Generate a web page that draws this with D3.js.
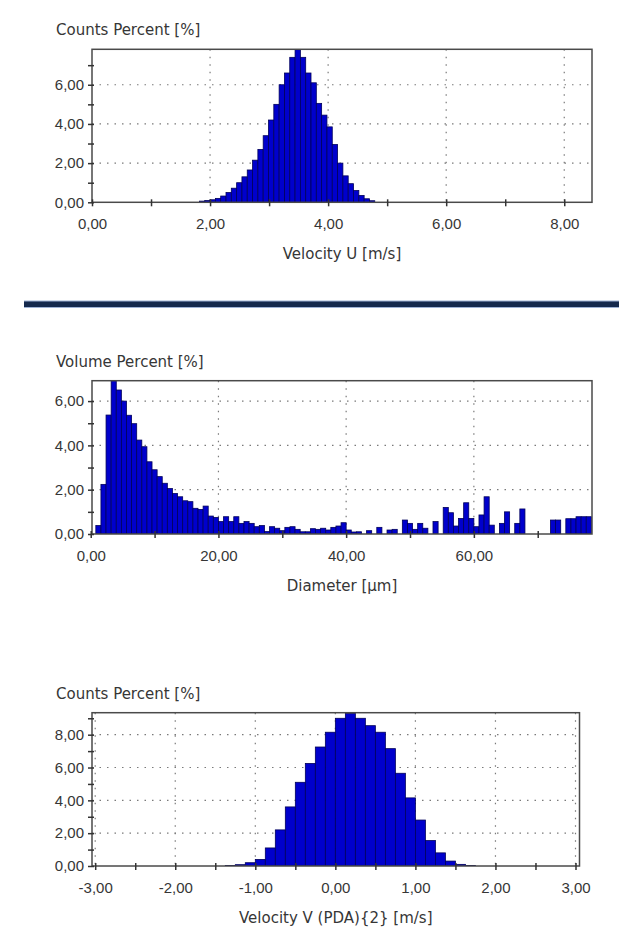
<!DOCTYPE html>
<html>
<head>
<meta charset="utf-8">
<script src="https://cdn.jsdelivr.net/npm/d3@7"></script>
<style>
  body { margin: 0; background: #fff; }
  svg { display: block; font-family: "DejaVu Sans", sans-serif; }
  .grid line { stroke: #7a7a7a; stroke-width: 1.2; stroke-dasharray: 1.5 6; }
  .bar { fill: #0000cc; stroke: #00005a; stroke-width: 0.8; }
  .frame { fill: none; stroke: #4a4a4a; stroke-width: 1.5; }
  .axis text { fill: #363636; font-size: 15px; }
  .axis line { stroke: #333; stroke-width: 1.5; }
  .title { fill: #363636; font-size: 15px; }
</style>
</head>
<body>
<svg width="619" height="927"></svg>
<script>
// ---- data ----
// velocity U histogram, bins of 0.09 m/s from 1.82
var velUStart = 1.82, velUBin = 0.09;
var velUCounts = [0.06, 0.09, 0.13, 0.2, 0.32, 0.5, 0.72, 1.0, 1.3, 1.65,
  2.15, 2.7, 3.4, 4.2, 5.0, 6.0, 6.6, 7.4, 7.8, 7.4,
  6.6, 6.1, 5.05, 4.45, 3.85, 2.95, 2.0, 1.35, 0.95, 0.6,
  0.35, 0.18, 0.08];
var velUXTicks = [0, 2, 4, 6, 8];
var velUXMinor = [1, 3, 5, 7];
var velUYTicks = [0, 2, 4, 6];
var velUYMinor = [1, 3, 5, 7];

// diameter histogram, bins of 0.8 µm from 0.8
var diamStart = 0.8, diamBin = 0.8;
var diamVolume = [0.38, 2.24, 5.37, 6.92, 6.5, 6.0, 5.36, 4.98, 4.24, 3.94,
  3.26, 2.9, 2.59, 2.29, 2.05, 1.83, 1.68, 1.5, 1.46, 1.16,
  1.11, 1.26, 0.81, 0.75, 0.56, 0.78, 0.56, 0.78, 0.48, 0.56,
  0.48, 0.33, 0.38, 0.11, 0.33, 0.26, 0.15, 0.3, 0.33, 0.21,
  0.1, 0.1, 0.24, 0.21, 0.26, 0.18, 0.3, 0.36, 0.51, 0.18,
  0.09, 0.1, 0, 0.15, 0, 0.3, 0, 0.18, 0.21, 0,
  0.63, 0.48, 0.21, 0.48, 0.26, 0, 0.56, 0, 1.2, 0.96,
  0.36, 0.7, 1.41, 0.7, 0.33, 0.86, 1.68, 0.4, 0, 0.48,
  1.0, 0, 0.48, 1.13, 0, 0, 0, 0, 0, 0.63,
  0.63, 0, 0.69, 0.69, 0.78, 0.78, 0.78];
var diamXTicks = [0, 20, 40, 60];
var diamXMinor = [10, 30, 50, 70];
var diamYTicks = [0, 2, 4, 6];
var diamYMinor = [1, 3, 5];

// velocity V histogram, bins of 0.125 m/s from -1.375
var velVStart = -1.375, velVBin = 0.125;
var velVCounts = [0.03, 0.08, 0.2, 0.4, 1.1, 2.2, 3.6, 5.1, 6.25, 7.25,
  8.15, 9.0, 9.3, 9.0, 8.55, 8.15, 7.15, 5.65, 4.15, 2.8,
  1.55, 0.8, 0.3, 0.1, 0.03];
var velVXTicks = [-3, -2, -1, 0, 1, 2, 3];
var velVXMinor = [-2.5, -1.5, -0.5, 0.5, 1.5, 2.5];
var velVYTicks = [0, 2, 4, 6, 8];
var velVYMinor = [1, 3, 5, 7, 9];

var fmt = d3.formatLocale({decimal: ",", thousands: ".", grouping: [3], currency: ["", ""], minus: "-"}).format(".2f");

var svg = d3.select("svg");

function panel(o) {
  var x = d3.scaleLinear().domain(o.xDomain).range([o.left, o.right]);
  var y = d3.scaleLinear().domain(o.yDomain).range([o.bottom, o.top]);
  var g = svg.append("g");

  g.append("clipPath").attr("id", o.id)
    .append("rect")
      .attr("x", o.left).attr("y", o.top - 1)
      .attr("width", o.right - o.left).attr("height", o.bottom - o.top + 1);

  // dotted grid
  var grid = g.append("g").attr("class", "grid");
  grid.selectAll(".gx")
    .data(o.xTicks.filter(function(d) { return x(d) > o.left + 2; }))
    .enter().append("line")
      .attr("x1", function(d) { return x(d); })
      .attr("x2", function(d) { return x(d); })
      .attr("y1", o.top).attr("y2", o.bottom);
  grid.selectAll(".gy")
    .data(o.yTicks.filter(function(d) { return d > 0; }))
    .enter().append("line")
      .attr("x1", o.left).attr("x2", o.right)
      .attr("y1", function(d) { return y(d); })
      .attr("y2", function(d) { return y(d); });

  // bars
  g.append("g").attr("clip-path", "url(#" + o.id + ")")
    .selectAll("rect")
    .data(o.values.map(function(v, i) { return {x0: o.start + i * o.bin, x1: o.start + (i + 1) * o.bin, v: v}; })
      .filter(function(d) { return d.v > 0; }))
    .enter().append("rect")
      .attr("class", "bar")
      .attr("x", function(d) { return x(d.x0); })
      .attr("width", function(d) { return x(d.x1) - x(d.x0); })
      .attr("y", function(d) { return y(d.v); })
      .attr("height", function(d) { return y(0) - y(d.v); });

  g.append("rect").attr("class", "frame")
    .attr("x", o.left).attr("y", o.top)
    .attr("width", o.right - o.left).attr("height", o.bottom - o.top);

  // axes, ticks cross the line
  var xa = g.append("g").attr("class", "axis")
      .attr("transform", "translate(0," + y(0) + ")")
      .call(d3.axisBottom(x).tickValues(o.xTicks).tickFormat(fmt).tickSize(4).tickPadding(12));
  var xm = g.append("g").attr("class", "axis")
      .attr("transform", "translate(0," + y(0) + ")")
      .call(d3.axisBottom(x).tickValues(o.xMinor).tickFormat("").tickSize(4));
  var ya = g.append("g").attr("class", "axis")
      .attr("transform", "translate(" + o.left + ",0)")
      .call(d3.axisLeft(y).tickValues(o.yTicks).tickFormat(fmt).tickSize(4).tickPadding(4));
  var ym = g.append("g").attr("class", "axis")
      .attr("transform", "translate(" + o.left + ",0)")
      .call(d3.axisLeft(y).tickValues(o.yMinor).tickFormat("").tickSize(4));
  [xa, xm].forEach(function(a) { a.select(".domain").remove(); a.selectAll(".tick line").attr("y1", -3); });
  [ya, ym].forEach(function(a) { a.select(".domain").remove(); a.selectAll(".tick line").attr("x1", 2); });

  g.append("text").attr("class", "title")
    .attr("x", 56).attr("y", o.top - 14)
    .text(o.yTitle);
  g.append("text").attr("class", "title")
    .attr("x", (o.left + o.right) / 2).attr("y", o.bottom + 57)
    .attr("text-anchor", "middle")
    .text(o.xTitle);
}

panel({
  id: "c1", left: 92, right: 592, top: 49.3, bottom: 202.3,
  xDomain: [0, 8.47], yDomain: [0, 7.81],
  start: velUStart, bin: velUBin, values: velUCounts,
  xTicks: velUXTicks, xMinor: velUXMinor, yTicks: velUYTicks, yMinor: velUYMinor,
  yTitle: "Counts Percent [%]", xTitle: "Velocity U [m/s]"
});

// separator band
svg.append("rect").attr("x", 24).attr("y", 300.5).attr("width", 595).attr("height", 7.5).attr("fill", "#9fb3d6");
svg.append("rect").attr("x", 24).attr("y", 301.5).attr("width", 595).attr("height", 5.5).attr("fill", "#15294d");

panel({
  id: "c2", left: 92, right: 592, top: 380.7, bottom: 534,
  xDomain: [0.2, 78.5], yDomain: [0, 6.92],
  start: diamStart, bin: diamBin, values: diamVolume,
  xTicks: diamXTicks, xMinor: diamXMinor, yTicks: diamYTicks, yMinor: diamYMinor,
  yTitle: "Volume Percent [%]", xTitle: "Diameter [µm]"
});

panel({
  id: "c3", left: 92, right: 579.5, top: 712.7, bottom: 866,
  xDomain: [-3.04, 3.05], yDomain: [0, 9.34],
  start: velVStart, bin: velVBin, values: velVCounts,
  xTicks: velVXTicks, xMinor: velVXMinor, yTicks: velVYTicks, yMinor: velVYMinor,
  yTitle: "Counts Percent [%]", xTitle: "Velocity V (PDA){2} [m/s]"
});
</script>
</body>
</html>
